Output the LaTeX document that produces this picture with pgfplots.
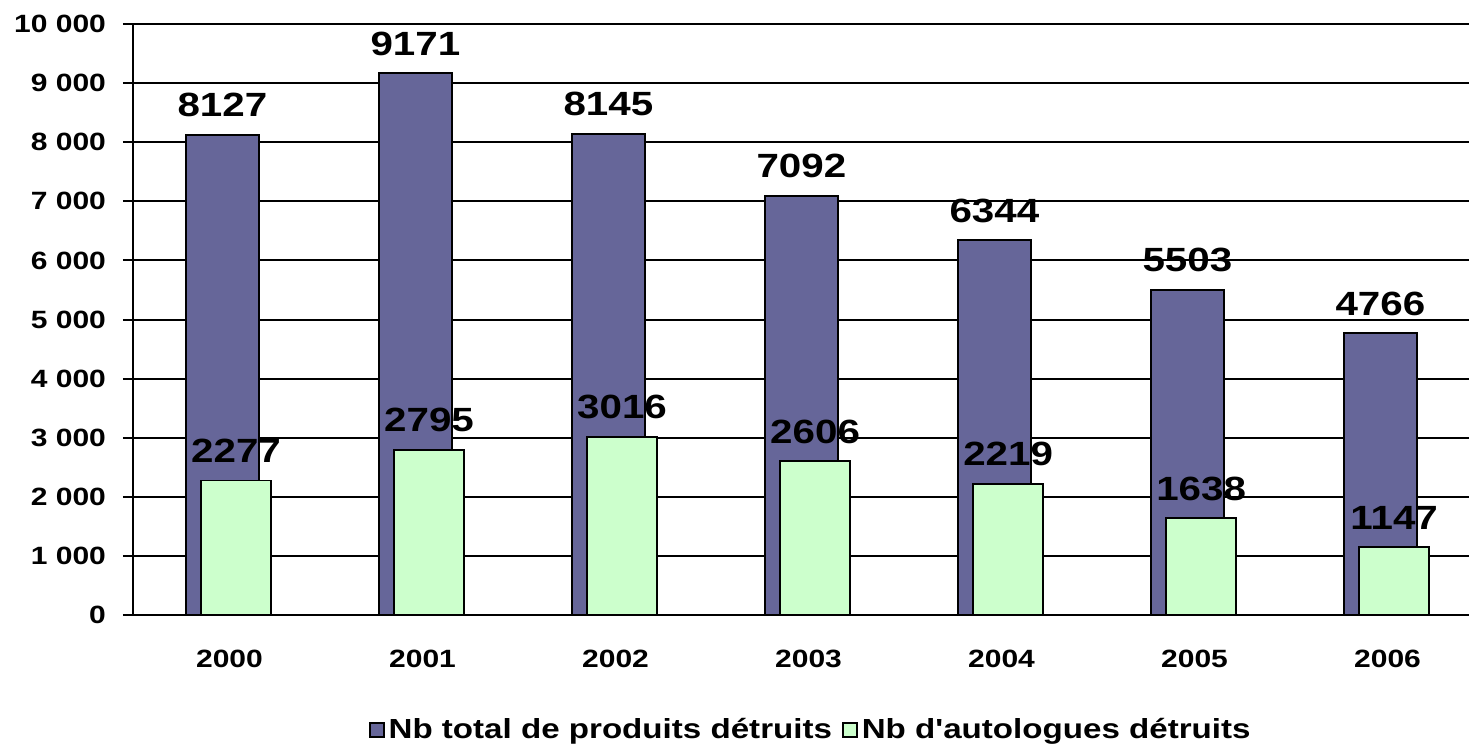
\documentclass[border=0pt]{standalone}
\usepackage{fontspec}
\setmainfont{Liberation Sans}[FakeStretch=1.2, Ligatures=TeXOff]
\usepackage{pgfplots}
\pgfplotsset{compat=1.18}
\usetikzlibrary{calc}
\definecolor{barpurple}{RGB}{102,102,153}
\definecolor{bargreen}{RGB}{204,255,204}

\begin{document}
\begin{tikzpicture}
\begin{axis}[
  name=ax,
  scale only axis,
  width=668pt, height=295.5pt,
  ybar, 
  xmin=-0.5, xmax=6.422,
  ymin=0, ymax=10000,
  scaled y ticks=false,
  /pgf/number format/.cd, 1000 sep={}, assume math mode=true, /pgfplots/.cd,
  axis x line*=bottom, axis y line*=left,
  axis line style={black, line width=1pt},
  xtick={0,...,6},
  xticklabels={2000,2001,2002,2003,2004,2005,2006},
  x tick style={draw=none},
  extra x ticks={-0.5,0.5,1.5,2.5,3.5,4.5,5.5},
  extra x tick labels={},
  extra x tick style={major tick length=4.5pt, tick align=outside,
    tick style={draw=black, line width=1pt}},
  ytick={0,1000,...,10000},
  yticklabels={0,1 000,2 000,3 000,4 000,5 000,6 000,7 000,8 000,9 000,10 000},
  y tick style={black, line width=1pt},
  major tick length=5pt, tick align=outside,
  ymajorgrids=true,
  grid style={black, line width=1pt},
  ticklabel style={font=\fontsize{12.5}{14}\selectfont\bfseries},
  xticklabel style={yshift=-9pt},
  yticklabel style={xshift=-5pt},
  nodes near coords,
  every node near coord/.append style={font=\fontsize{16.8}{18}\selectfont\bfseries,
    black, yshift=5pt},
  legend style={at={(0.508,-0.1946)}, anchor=center, draw=none,
    legend columns=2, font=\fontsize{13.8}{15}\selectfont\bfseries,
    /tikz/every even column/.append style={column sep=3pt}},
  legend image code/.code={\draw[#1, line width=0.9pt] (0pt,-3.5pt) rectangle (7pt,3.5pt);},
]
  \addplot[fill=barpurple, draw=black, line width=0.9pt, bar width=0.38, bar shift=-0.037]
    coordinates {(0,8127) (1,9171) (2,8145) (3,7092) (4,6344) (5,5503) (6,4766)};
  \addplot[fill=bargreen, draw=black, line width=0.9pt, bar width=0.363, bar shift=0.034]
    coordinates {(0,2277) (1,2795) (2,3016) (3,2606) (4,2219) (5,1638) (6,1147)};
  \legend{Nb total de produits détruits, Nb d'autologues détruits}
\end{axis}
\pgfresetboundingbox
\path ($(ax.south west)+(-66.5pt,-65.5pt)$) rectangle ($(ax.north east)+(0pt,12pt)$);
\end{tikzpicture}
\end{document}
